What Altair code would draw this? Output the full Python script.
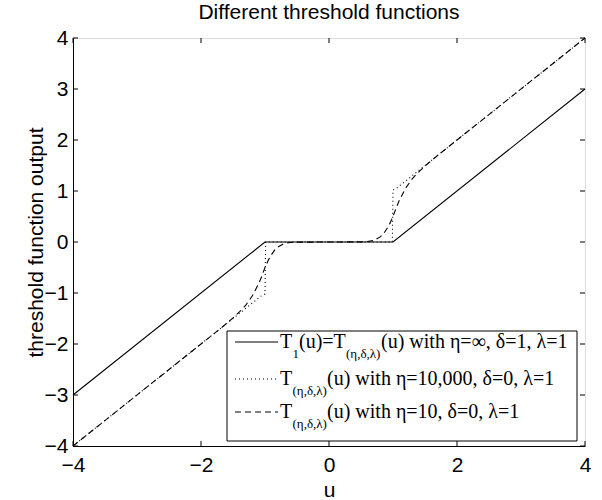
import altair as alt
import pandas as pd

# ---- data ----
solid_u = [-4, -1, 1, 4]
solid_v = [-3, 0, 0, 3]

dotted_u = [-4, -1.05, -1.0, -0.99, 0.99, 1.0, 1.05, 4]
dotted_v = [-4, -1.05, -1.02, 0, 0, 1.02, 1.05, 4]

dashed_u = [-4, -2, -1.7, -1.5, -1.4, -1.3, -1.2, -1.15, -1.1, -1.05, -1.0, -0.95, -0.9,
            -0.85, -0.8, -0.7, -0.6, -0.5, 0, 0.5, 0.6, 0.7, 0.8, 0.85, 0.9, 0.95, 1.0,
            1.05, 1.1, 1.15, 1.2, 1.3, 1.4, 1.5, 1.7, 2, 4]
dashed_v = [-4, -2, -1.70, -1.49, -1.37, -1.24, -1.06, -0.94, -0.82, -0.67, -0.50, -0.36,
            -0.25, -0.16, -0.10, -0.03, -0.01, -0.003, 0, 0.003, 0.01, 0.03, 0.10, 0.16,
            0.25, 0.36, 0.50, 0.67, 0.82, 0.94, 1.06, 1.24, 1.37, 1.49, 1.70, 2, 4]

x_ticks = [-4, -2, 0, 2, 4]
y_ticks = [-4, -3, -2, -1, 0, 1, 2, 3, 4]

title_text = "Different threshold functions"
x_title = "u"
y_title = "threshold function output"

W, H = 512, 408
SANS = "Liberation Sans"
SERIF = "Liberation Serif"
FS = 21

solid_df = pd.DataFrame({"u": solid_u, "v": solid_v})
dotted_df = pd.DataFrame({"u": dotted_u, "v": dotted_v})
dashed_df = pd.DataFrame({"u": dashed_u, "v": dashed_v})
xt_df = pd.DataFrame({"t": x_ticks})
yt_df = pd.DataFrame({"t": y_ticks})
one = pd.DataFrame({"a": [0]})

xs = alt.Scale(domain=[-4, 4], nice=False, zero=False)
ys = alt.Scale(domain=[-4, 4], nice=False, zero=False)

x_axis = alt.Axis(values=x_ticks, tickSize=0, labelPadding=8, labelFontSize=FS,
                  labelFont=SANS, labelColor="black", labelFlush=False, grid=False,
                  domainColor="black", title=x_title, titleFont=SANS, titleFontSize=FS,
                  titleFontWeight="normal", titleColor="black", titleX=W / 2, titleY=44,
                  titleBaseline="middle", titleAlign="center", format="d")
y_axis = alt.Axis(values=y_ticks, tickSize=0, labelPadding=5, labelFontSize=FS,
                  labelFont=SANS, labelColor="black", labelFlush=False, grid=False,
                  domainColor="black", title=y_title, titleFont=SANS, titleFontSize=FS,
                  titleFontWeight="normal", titleColor="black", titleX=-37, titleY=H / 2,
                  titleAngle=270, titleBaseline="middle", titleAlign="center", format="d")

solid = alt.Chart(solid_df).mark_line(color="black", strokeWidth=1.1).encode(
    x=alt.X("u:Q", scale=xs, axis=x_axis),
    y=alt.Y("v:Q", scale=ys, axis=y_axis),
    order="u:Q",
)
dotted = alt.Chart(dotted_df).mark_line(color="black", strokeWidth=1.1, strokeDash=[1, 3]).encode(
    x=alt.X("u:Q", scale=xs), y=alt.Y("v:Q", scale=ys), order="u:Q")
dashed = alt.Chart(dashed_df).mark_line(color="black", strokeWidth=1.1, strokeDash=[6, 4]).encode(
    x=alt.X("u:Q", scale=xs), y=alt.Y("v:Q", scale=ys), order="u:Q")

TL = 5
tick_b = alt.Chart(xt_df).mark_rule(color="black").encode(
    x=alt.X("t:Q", scale=xs), y=alt.value(H), y2=alt.value(H - TL))
tick_t = alt.Chart(xt_df).mark_rule(color="black").encode(
    x=alt.X("t:Q", scale=xs), y=alt.value(0), y2=alt.value(TL))
tick_l = alt.Chart(yt_df).mark_rule(color="black").encode(
    y=alt.Y("t:Q", scale=ys), x=alt.value(0), x2=alt.value(TL))
tick_r = alt.Chart(yt_df).mark_rule(color="black").encode(
    y=alt.Y("t:Q", scale=ys), x=alt.value(W), x2=alt.value(W - TL))

# ---- legend (built by hand for subscripts) ----
OX, OY = 73, 38
box = alt.Chart(one).mark_rect(fill="white", stroke="black", strokeWidth=1).encode(
    x=alt.value(227 - OX), x2=alt.value(577 - OX), y=alt.value(331 - OY), y2=alt.value(441 - OY))

rows_y = [342, 379, 412]
dashes = [None, [1, 3], [6, 4]]
legend_layers = [box]
for ry, dsh in zip(rows_y, dashes):
    kw = dict(color="black", strokeWidth=1)
    if dsh:
        kw["strokeDash"] = dsh
    legend_layers.append(alt.Chart(one).mark_rule(**kw).encode(
        x=alt.value(235 - OX), x2=alt.value(278 - OX), y=alt.value(ry - OY)))


def txt(s, x, y, size):
    return alt.Chart(one).mark_text(align="left", baseline="middle", font=SERIF,
                                    fontSize=size, color="black").encode(
        x=alt.value(x - OX), y=alt.value(y - OY), text=alt.value(s))


MAIN, SUB = 20, 13
sub_dy = 12
r1, r2, r3 = rows_y
legend_layers += [
    txt("T", 280, r1, MAIN), txt("1", 292.5, r1 + sub_dy, SUB),
    txt("(u)=T", 299, r1, MAIN), txt("(η,δ,λ)", 346, r1 + sub_dy, SUB),
    txt("(u) with η=∞, δ=1, λ=1", 381, r1, MAIN),
    txt("T", 280, r2, MAIN), txt("(η,δ,λ)", 292.5, r2 + sub_dy, SUB),
    txt("(u) with η=10,000, δ=0, λ=1", 327, r2, MAIN),
    txt("T", 280, r3, MAIN), txt("(η,δ,λ)", 292.5, r3 + sub_dy, SUB),
    txt("(u) with η=10, δ=0, λ=1", 327, r3, MAIN),
]

chart = alt.layer(
    solid, dotted, dashed, tick_b, tick_t, tick_l, tick_r, *legend_layers
).properties(
    width=W, height=H,
    title=alt.TitleParams(title_text, font=SANS, fontSize=FS, fontWeight="normal",
                          color="black", anchor="middle", offset=4),
    autosize=alt.AutoSizeParams(type="none"),
    padding={"left": OX, "top": OY, "right": 602 - OX - W, "bottom": 500 - OY - H},
).configure_view(stroke="black", strokeWidth=1).configure(background="white")

chart.save("out.html", embed_options={"renderer": "svg", "actions": False})
